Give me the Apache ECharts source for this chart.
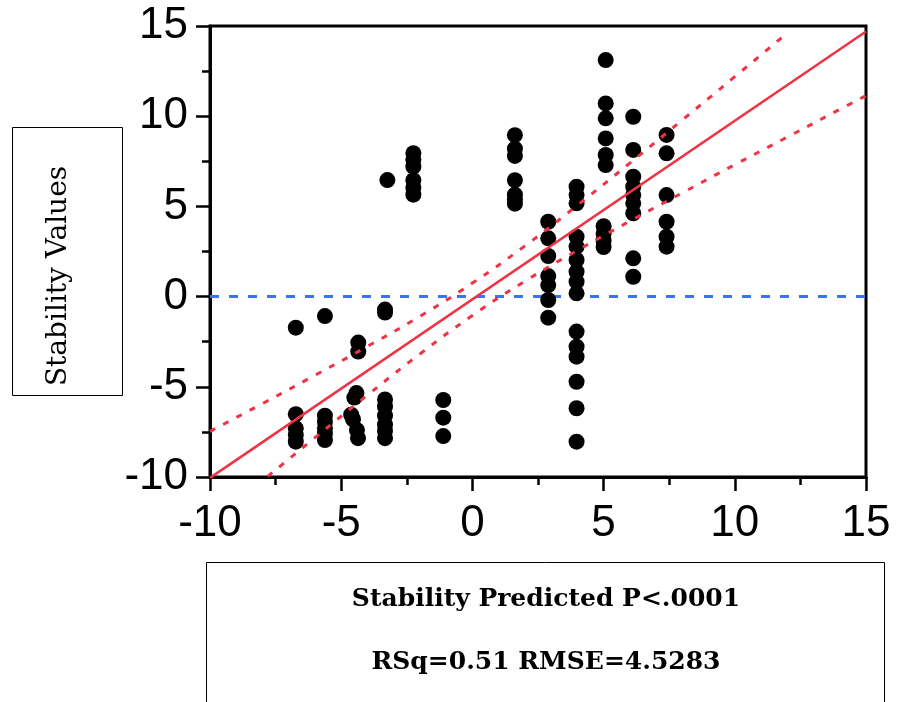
<!DOCTYPE html>
<html><head><meta charset="utf-8">
<script src="https://cdn.jsdelivr.net/npm/echarts@6/dist/echarts.min.js"></script>
<style>html,body{margin:0;padding:0;background:#fff}#c{width:898px;height:702px}</style>
</head><body><div id="c"></div>
<script>
const predicted = [
  -6.73,-6.73,-6.73,-6.73,-6.73,
  -5.62,-5.62,-5.62,-5.62,-5.62,-5.62,
  -4.42,-4.50,-4.62,-4.55,-4.40,-4.36,-4.35,-4.35,
  -3.33,-3.33,-3.33,-3.33,-3.33,-3.33,-3.33,-3.33,
  -3.24,
  -2.25,-2.25,-2.25,-2.25,-2.25,-2.25,
  -1.11,-1.11,-1.11,
  1.62,1.62,1.62,1.62,1.62,1.62,1.62,
  2.89,2.89,2.89,2.89,2.89,2.89,2.89,
  3.97,3.97,3.97,3.97,3.97,3.97,3.97,3.97,3.97,3.97,3.97,3.97,3.97,3.97,3.97,
  5.08,5.08,5.08,5.08,5.08,5.08,5.00,5.00,5.00,5.00,
  6.13,6.13,6.13,6.13,6.13,6.13,6.13,6.13,6.13,
  7.40,7.40,7.40,7.40,7.40,7.40
];
const actual = [
  -1.72,-6.52,-7.30,-7.67,-8.04,
  -1.08,-6.60,-6.95,-7.30,-7.60,-7.95,
  -5.35,-5.60,-6.55,-6.80,-7.40,-7.85,-2.55,-3.05,
  -0.72,-0.88,-5.70,-6.10,-6.60,-7.10,-7.45,-7.85,
  6.46,
  7.95,7.60,7.20,6.45,6.05,5.65,
  -5.73,-6.71,-7.73,
  8.95,8.20,7.80,6.45,5.65,5.40,5.15,
  4.15,3.23,2.25,1.14,0.64,-0.19,-1.17,
  6.09,5.63,5.17,3.32,2.77,2.03,1.38,0.83,0.18,-1.94,-2.78,-3.33,-4.72,-6.19,-8.04,
  13.11,10.71,9.88,8.77,7.85,7.29,3.90,3.50,3.10,2.75,
  9.97,8.13,6.65,6.09,5.63,5.17,4.62,2.12,1.10,
  8.96,7.94,5.63,4.15,3.32,2.77
];
// Fit line end points
const fitX = [-10, 15];
const fitY = [-10.05, 14.70];
// Confidence curves
const upperX = [-10, -8, -6, -4, -2, 0, 2, 4, 6, 8, 10, 11.8];
const upperY = [-7.47, -5.93, -4.36, -2.76, -1.09, 0.75, 2.81, 5.06, 7.40, 9.79, 12.19, 14.37];
const lowerX = [-7.8, -6, -4, -2, 0, 2, 4, 6, 8, 10, 12, 14, 15];
const lowerY = [-9.97, -7.82, -5.46, -3.18, -1.05, 0.85, 2.56, 4.18, 5.75, 7.31, 8.84, 10.38, 11.14];
// Reference line
const refX = [-10, 15];
const refY = [0, 0];
const xTitle1 = 'Stability Predicted P<.0001';
const xTitle2 = 'RSq=0.51 RMSE=4.5283';
const yTitle = 'Stability Values';

const zip = (a, b) => a.map((v, i) => [v, b[i]]);
const RED = '#ee3344';
const BLUE = '#3a73f0';

const axisCommon = {
  type: 'value', min: -10, max: 15, interval: 5,
  axisLine: { show: true, onZero: false, lineStyle: { color: '#000', width: 3 } },
  axisTick: { show: true, inside: false, length: 14, lineStyle: { color: '#000', width: 2.5 } },
  minorTick: { show: true, splitNumber: 2, length: 8, lineStyle: { color: '#000', width: 2.5 } },
  splitLine: { show: false },
  minorSplitLine: { show: false },
  axisLabel: { color: '#000', fontSize: 44, fontFamily: 'Liberation Sans' }
};

const chart = echarts.init(document.getElementById('c'), null, { renderer: 'canvas' });
chart.setOption({
  animation: false,
  backgroundColor: '#fff',
  grid: { left: 210, top: 26, right: 32, bottom: 225, show: true, borderColor: '#000', borderWidth: 3, backgroundColor: 'transparent' },
  xAxis: Object.assign({}, axisCommon, { axisLabel: Object.assign({}, axisCommon.axisLabel, { margin: 25 }) }),
  yAxis: Object.assign({}, axisCommon, { axisLabel: Object.assign({}, axisCommon.axisLabel, { margin: 22 }) }),
  series: [
    { type: 'line', data: zip(refX, refY), showSymbol: false, z: 1,
      lineStyle: { color: BLUE, width: 3, type: [9, 10] } },
    { type: 'scatter', data: zip(predicted, actual), symbol: 'circle', symbolSize: 16, z: 2,
      itemStyle: { color: '#000', opacity: 1 } },
    { type: 'line', data: zip(fitX, fitY), showSymbol: false, z: 3,
      lineStyle: { color: RED, width: 2.5 } },
    { type: 'line', data: zip(upperX, upperY), showSymbol: false, smooth: true, z: 3,
      lineStyle: { color: RED, width: 3, type: [6, 9] } },
    { type: 'line', data: zip(lowerX, lowerY), showSymbol: false, smooth: true, z: 3,
      lineStyle: { color: RED, width: 3, type: [6, 9] } }
  ],
  graphic: [
    { type: 'rect', shape: { x: 12.5, y: 127.5, width: 110, height: 268 },
      style: { fill: '#fff', stroke: '#000', lineWidth: 1 } },
    { type: 'text', x: 59, y: 276, rotation: Math.PI / 2,
      style: { text: yTitle, fill: '#000', font: '28px "DejaVu Serif"', align: 'center', verticalAlign: 'middle' } },
    { type: 'rect', shape: { x: 206.5, y: 562.5, width: 678, height: 150 },
      style: { fill: '#fff', stroke: '#000', lineWidth: 1 } },
    { type: 'text', x: 546, y: 599,
      style: { text: xTitle1, fill: '#000', font: 'bold 25px "DejaVu Serif"', align: 'center', verticalAlign: 'middle' } },
    { type: 'text', x: 546, y: 662,
      style: { text: xTitle2, fill: '#000', font: 'bold 25px "DejaVu Serif"', align: 'center', verticalAlign: 'middle' } }
  ]
});
</script></body></html>
